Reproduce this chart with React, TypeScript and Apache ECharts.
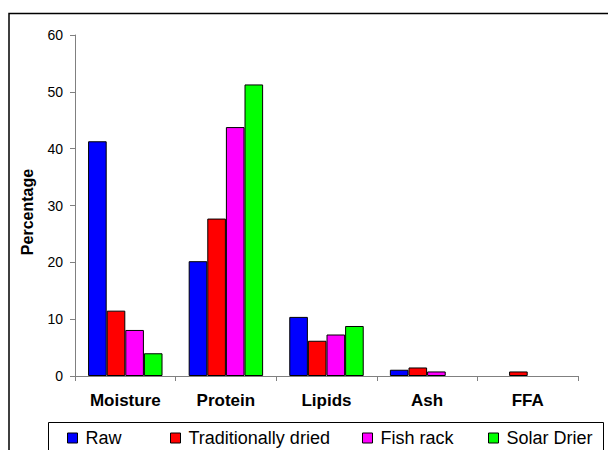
import React, { useEffect, useRef } from "react";
import * as echarts from "echarts";

const categories = ["Moisture", "Protein", "Lipids", "Ash", "FFA"];
const seriesNames = ["Raw", "Traditionally dried", "Fish rack", "Solar Drier"];
const raw = [41.3, 20.2, 10.4, 1.1, null];
const traditionallyDried = [11.5, 27.7, 6.2, 1.5, 0.8];
const fishRack = [8.1, 43.8, 7.3, 0.8, null];
const solarDrier = [4.0, 51.3, 8.8, null, null];
const colors = ["#0000FF", "#FF0000", "#FF00FF", "#00FF00"];
const legendLefts = [67, 170, 362, 488];
const yAxisTitle = "Percentage";

const FONT = "Liberation Sans, Arial, sans-serif";

export default function App() {
  const ref = useRef<HTMLDivElement>(null);
  useEffect(() => {
    if (!ref.current) return;
    const chart = echarts.init(ref.current, null, { renderer: "svg" });
    const values = [raw, traditionallyDried, fishRack, solarDrier];
    chart.setOption({
      animation: false,
      backgroundColor: "#fff",
      textStyle: { fontFamily: FONT },
      grid: { left: 75, right: 31, top: 35, bottom: 74 },
      legend: seriesNames.map((n, i) => ({
        data: [n],
        left: legendLefts[i],
        top: 429,
        itemWidth: 10,
        itemHeight: 10,
        icon: "rect",
        itemGap: 0,
        padding: 0,
        textStyle: { fontSize: 18, color: "#000", fontFamily: FONT, padding: [0, 0, 0, 3] },
        itemStyle: { borderColor: "#000", borderWidth: 1 },
      })),
      xAxis: {
        type: "category",
        data: categories,
        axisLine: { lineStyle: { color: "#808080", width: 1 } },
        axisTick: { show: true, length: 5, lineStyle: { color: "#808080" } },
        axisLabel: {
          fontSize: 17,
          fontWeight: "bold",
          color: "#000",
          margin: 16,
          fontFamily: FONT,
        },
      },
      yAxis: {
        type: "value",
        min: 0,
        max: 60,
        interval: 10,
        splitLine: { show: false },
        axisLine: { show: true, lineStyle: { color: "#808080", width: 1 } },
        axisTick: { show: true, length: 5, lineStyle: { color: "#808080" } },
        axisLabel: {
          fontSize: 14,
          color: "#000",
          margin: 12,
          fontFamily: FONT,
        },
      },
      series: seriesNames.map((n, i) => ({
        name: n,
        type: "bar",
        data: values[i],
        barGap: "0%",
        barCategoryGap: "26%",
        itemStyle: { color: colors[i], borderColor: "#000", borderWidth: 1 },
      })),
      graphic: [
        {
          type: "polyline",
          shape: { points: [[9, 460], [9, 13.5], [608, 13.5]] },
          style: { stroke: "#000", lineWidth: 1.5, fill: null },
          silent: true,
        },
        {
          type: "rect",
          shape: { x: 48.5, y: 422.5, width: 555, height: 40 },
          style: { stroke: "#000", lineWidth: 1, fill: null },
          silent: true,
          z: -1,
        },
        {
          type: "text",
          x: 27,
          y: 212,
          rotation: Math.PI / 2,
          style: {
            text: yAxisTitle,
            fontSize: 16,
            fontWeight: "bold",
            fontFamily: FONT,
            fill: "#000",
            align: "center",
            verticalAlign: "middle",
          },
          silent: true,
        },
      ],
    });
    return () => chart.dispose();
  }, []);
  return <div ref={ref} style={{ width: 609, height: 450, position: "absolute", left: 0, top: 0 }} />;
}
